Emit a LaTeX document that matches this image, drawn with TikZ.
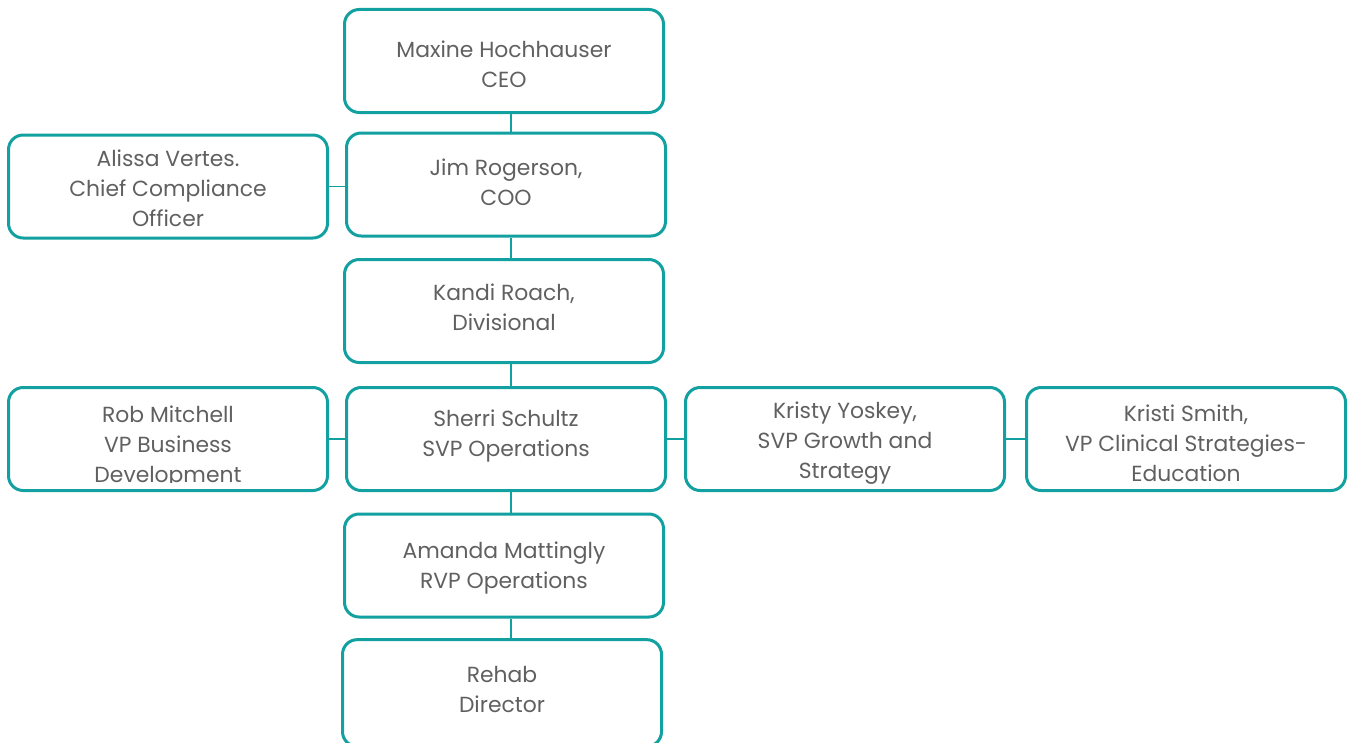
\documentclass[tikz,border=0pt]{standalone}
\usepackage{fontspec}
\setmainfont{Poppins}
\definecolor{tealline}{RGB}{18,160,160}
\definecolor{txtgray}{RGB}{96,96,96}
\newcommand\mvtext[2]{\raisebox{#1}[\height][\depth]{\begin{tabular}{@{}c@{}}#2\end{tabular}}}
\tikzset{
  box/.style={draw=tealline, line width=2.25pt, rounded corners=11pt,
    minimum width=239.25pt, minimum height=77.25pt, align=center,
    text=txtgray, font=\fontsize{16.4}{22.5}\selectfont, inner sep=0pt},
  boxtext/.style={align=center, text=txtgray, font=\fontsize{16.4}{22.5}\selectfont, inner sep=0pt},
  link/.style={draw=tealline, line width=1.2pt}
}
\begin{document}
\begin{tikzpicture}[x=0.75pt, y=-0.75pt]
\useasboundingbox (0,0) rectangle (1348,742);
\coordinate (spine) at (511,0);
\node[box] (ceo) at (504,61) {\mvtext{-4pt}{Maxine Hochhauser\\CEO}};
\node[box] (coo) at (506,184.5) {\mvtext{0pt}{Jim Rogerson,\\COO}};
\node[box] (cco) at (168,186.5) {\mvtext{-3.2pt}{Alissa Vertes.\\Chief Compliance\\Officer}};
\node[box] (kandi) at (504,311) {\mvtext{1.5pt}{Kandi Roach,\\Divisional}};
\node[box] (rob) at (168,439) {};
\begin{scope}
  \clip (10,390) rectangle (326,482);
  \node[boxtext] (robtext) at (168,447) {Rob Mitchell\\VP Business\\Development};
\end{scope}
\node[box] (sherri) at (506,439) {\mvtext{2.5pt}{Sherri Schultz\\SVP Operations}};
\node[box] (kristy) at (845,439) {\mvtext{-2.5pt}{Kristy Yoskey,\\SVP Growth and\\Strategy}};
\node[box] (kristi) at (1186,439) {\mvtext{-4.5pt}{Kristi Smith,\\VP Clinical Strategies-\\Education}};
\node[box] (amanda) at (504,565.5) {\mvtext{-1.5pt}{Amanda Mattingly\\RVP Operations}};
\node[box, minimum height=80pt] (rehab) at (502,693) {\mvtext{1pt}{Rehab\\Director}};
\draw[link] (ceo.south -| spine) -- (coo.north -| spine);
\draw[link] (coo.south -| spine) -- (kandi.north -| spine);
\draw[link] (cco.east) -- (cco.east -| coo.west);
\draw[link] (kandi.south -| spine) -- (sherri.north -| spine);
\draw[link] (rob.east) -- (rob.east -| sherri.west);
\draw[link] (sherri.east) -- (sherri.east -| kristy.west);
\draw[link] (kristy.east) -- (kristy.east -| kristi.west);
\draw[link] (sherri.south -| spine) -- (amanda.north -| spine);
\draw[link] (amanda.south -| spine) -- (rehab.north -| spine);
\end{tikzpicture}
\end{document}
